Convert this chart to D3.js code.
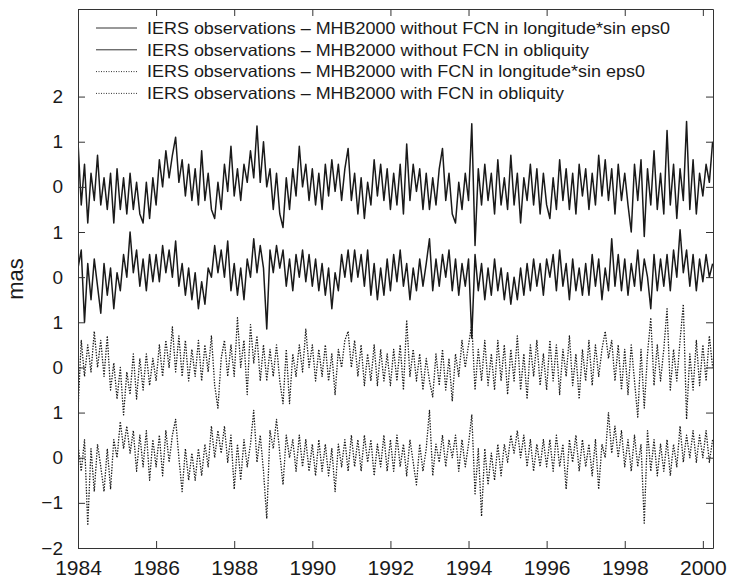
<!DOCTYPE html>
<html lang="en">
<head>
<meta charset="UTF-8">
<script src="https://d3js.org/d3.v7.min.js"></script>
<style>
  body { margin: 0; background: #fff; }
  #plot { position: absolute; left: 0; top: 0; }
  text { font-family: "Liberation Sans", Arial, Helvetica, sans-serif; fill: #1a1a1a; }
</style>
</head>
<body>
<div id="plot"></div>
<script>
// sampling grid of the series (one value per month)
const startYear = 1984;
const stepYear = 1 / 12;

// IERS - MHB2000 without FCN, longitude*sin eps0 (mas)
const woLon = [
  1.0,-0.4,0.5,-0.8,0.3,-0.3,0.7,-0.4,0.2,-0.5,0.3,-0.8,
  0.4,-0.5,0.2,-0.6,0.3,-0.5,0.1,-0.6,-0.8,0.1,-0.7,0.2,
  -0.4,0.6,0.0,0.8,0.2,0.7,1.1,0.1,0.6,-0.2,0.5,-0.3,
  0.4,-0.4,0.8,-0.3,0.3,-0.5,-0.7,0.1,-0.5,0.5,-0.1,0.9,
  -0.2,0.4,-0.3,0.5,0.1,0.8,0.2,1.35,0.1,1.0,0.0,0.4,
  -0.5,0.3,-0.6,-0.9,0.2,-0.5,0.4,-0.2,0.9,0.0,0.5,-0.3,
  0.4,-0.4,0.3,-0.5,0.5,-0.2,0.6,-0.1,0.5,-0.3,0.4,0.85,
  -0.3,0.3,-0.6,0.2,-0.7,0.1,-0.4,0.6,-0.2,0.5,-0.3,0.4,
  -0.5,0.3,-0.4,0.5,-0.6,0.95,-0.3,0.5,-0.1,0.4,-0.5,0.3,
  -0.5,0.2,-0.4,0.4,0.85,-0.3,0.3,-0.6,-0.8,0.1,-0.5,0.3,
  -0.3,1.4,-1.3,0.4,-0.4,0.5,-0.3,0.3,-0.6,0.6,-0.4,0.2,
  -0.5,0.7,-0.4,0.3,-0.8,0.2,-0.3,0.5,-0.4,0.4,-0.6,0.3,
  -0.4,-0.7,0.2,-0.5,0.6,-0.3,0.4,-0.5,0.3,-0.6,0.5,-0.2,
  0.4,-0.5,0.3,-0.4,0.7,-0.2,0.6,-0.3,0.4,-0.6,0.5,-0.3,
  0.3,-0.4,-1.0,0.5,-0.3,0.6,-1.1,0.4,-0.4,0.8,-0.5,0.3,
  -0.6,1.25,-0.4,0.5,-0.7,0.4,-0.3,1.45,-0.5,0.6,-0.6,0.3,
  -0.2,0.5,0.1,1.0
];

// IERS - MHB2000 without FCN, obliquity (mas)
const woObl = [
  0.2,0.6,-1.0,0.3,-0.5,0.4,-0.2,-0.8,0.3,-0.4,0.2,-0.7,
  0.1,-0.3,0.5,0.0,1.0,0.1,0.6,-0.2,0.4,-0.3,0.5,-0.1,
  0.5,-0.1,0.7,0.1,0.6,0.0,0.8,-0.2,0.3,-0.4,0.2,-0.5,
  0.1,-0.7,-0.1,-0.6,0.2,0.0,0.7,0.1,0.6,0.0,0.8,-0.3,
  0.3,-0.4,0.2,-0.5,0.4,0.0,0.85,0.1,0.7,0.2,-1.15,0.6,
  0.1,0.7,0.2,0.6,-0.2,0.4,-0.3,0.5,0.0,0.6,-0.1,0.5,
  -0.2,0.4,-0.3,0.3,-0.4,0.2,-0.7,0.1,-0.3,0.5,0.0,0.6,
  -0.1,0.6,0.0,0.5,-0.2,0.6,-0.4,0.3,-0.5,0.2,-0.4,0.4,
  -0.3,0.5,-0.1,0.6,-0.2,0.3,-0.5,0.2,-0.3,0.4,-0.2,0.3,
  0.85,-0.3,0.4,-0.2,0.5,0.0,0.6,-0.3,0.4,-0.4,0.3,-0.2,
  0.4,-1.35,0.5,-0.3,0.3,-0.5,0.2,-0.4,0.4,-0.3,0.2,-0.5,
  0.1,-0.6,0.0,-0.5,0.2,-0.4,0.3,-0.3,0.4,-0.2,0.3,-0.4,
  0.4,0.0,0.5,-0.3,0.6,-0.2,0.3,-0.5,0.4,-0.3,0.2,-0.4,
  0.3,-0.4,0.5,-0.2,0.4,-0.5,0.2,-0.3,0.85,-0.2,0.5,-0.3,
  0.4,-0.4,0.3,-0.2,0.6,-0.3,0.4,0.0,-0.7,0.5,-0.3,0.4,
  -0.2,0.5,-0.3,0.6,0.0,1.05,0.1,0.6,-0.2,0.5,-0.3,0.4,
  -0.1,0.5,0.0,0.3
];

// IERS - MHB2000 with FCN, longitude*sin eps0 (mas)
const wLon = [
  -0.95,0.6,-0.2,0.5,-0.1,0.8,0.0,0.6,-0.2,0.7,-0.5,0.1,
  -0.7,0.0,-1.05,-0.1,-0.6,0.3,-0.7,0.2,-0.5,0.3,-0.4,0.2,
  -0.3,0.5,-0.2,0.6,0.0,0.9,-0.1,0.7,-0.2,0.6,-0.3,0.4,
  -0.2,0.6,-0.3,0.5,-0.1,0.7,-0.4,-0.9,0.2,0.6,-0.2,0.5,
  -0.2,1.1,0.0,0.6,-0.6,0.95,0.1,0.7,-0.3,0.5,-0.3,0.4,
  -0.2,0.5,-0.3,-0.8,0.4,-0.8,0.3,-0.2,0.5,-0.1,0.85,0.0,
  0.5,-0.3,0.4,-0.2,0.5,-0.3,0.3,-0.6,0.4,0.0,0.6,0.8,
  0.0,0.6,-0.2,0.5,-0.4,0.3,-0.3,0.5,-0.4,0.4,-0.3,0.3,
  -0.4,0.4,-0.3,0.5,-0.5,1.05,-0.2,0.4,-0.3,0.3,-0.5,0.2,
  -0.3,-0.65,0.3,-0.4,0.4,-0.5,0.2,-0.75,0.3,-0.2,0.6,0.0,
  0.5,0.95,-0.5,0.4,-0.3,0.6,-0.4,0.3,-0.5,0.6,-0.3,0.5,
  -0.6,0.4,-0.3,0.7,-0.5,0.3,-0.7,0.5,-0.2,0.6,-0.4,0.3,
  -0.5,0.6,-0.3,0.5,-0.6,0.4,-0.2,0.7,-0.4,0.3,-0.7,0.4,
  -0.3,0.6,-0.4,0.5,-0.2,0.4,0.8,0.2,0.6,-0.3,0.5,-0.5,
  0.4,-0.6,0.5,-0.3,-1.1,0.4,-0.9,0.3,1.1,-0.4,0.5,-0.3,
  0.4,1.3,-0.5,0.4,-0.3,0.6,1.4,-1.15,0.3,-0.5,0.6,-0.4,
  0.5,-0.3,0.7,0.0
];

// IERS - MHB2000 with FCN, obliquity (mas)
const wObl = [
  0.3,-0.3,0.4,-1.5,0.2,-0.75,0.3,-0.2,-0.75,0.2,-0.7,0.4,
  0.0,0.8,0.2,0.7,0.1,0.6,-0.3,0.5,-0.2,0.6,-0.5,0.4,
  -0.2,0.5,-0.4,0.6,-0.1,0.5,0.85,0.0,-0.75,0.2,-0.5,0.1,
  -0.5,0.2,-0.4,0.3,-0.2,0.7,0.0,0.6,0.1,0.7,-0.1,0.5,
  -0.7,0.3,-0.5,0.4,-0.2,0.3,1.05,-0.1,0.5,-0.3,-1.35,0.6,
  0.2,0.85,0.1,-0.6,0.5,0.0,0.4,-0.3,0.5,-0.2,0.4,-0.3,
  0.3,-0.4,0.4,-0.3,0.3,-0.4,0.2,-0.75,0.3,-0.2,0.4,-0.3,
  0.5,-0.2,0.4,-0.3,0.5,-0.1,0.4,-0.4,0.3,-0.2,0.5,-0.3,
  0.4,-0.3,0.5,-0.2,0.3,-0.4,0.4,-0.1,-0.6,0.3,-0.3,0.2,
  1.05,-0.4,0.3,-0.1,0.5,-0.2,0.4,0.0,0.5,-0.3,0.4,-0.2,
  0.3,0.95,-0.8,0.2,-1.3,0.2,-0.6,0.1,-0.5,0.3,-0.4,0.3,
  -0.1,0.5,0.1,0.6,0.0,0.5,-0.2,0.4,-0.3,0.3,-0.2,0.4,
  -0.2,0.4,-0.3,0.5,-0.2,0.3,-0.7,0.4,-0.1,0.5,-0.3,0.4,
  -0.2,0.3,-0.4,0.4,-0.7,0.3,0.0,1.0,0.1,0.7,0.0,0.6,
  -0.2,0.4,-0.3,0.5,-0.2,0.3,-1.45,0.6,-0.3,0.4,-0.4,0.3,
  -0.3,0.4,-0.4,0.3,-0.2,0.7,-0.1,0.5,0.0,0.6,-0.1,0.5,
  0.0,0.6,-0.1,0.4
];

const seriesNames = [
  "IERS observations \u2013 MHB2000 without FCN in longitude*sin eps0",
  "IERS observations \u2013 MHB2000 without FCN in obliquity",
  "IERS observations \u2013 MHB2000 with FCN in longitude*sin eps0",
  "IERS observations \u2013 MHB2000 with FCN in obliquity"
];
const seriesOffsets = [6, 4, 2, 0];   // vertical shift of each curve (mas)
const seriesDashed = [false, false, true, true];

const xTicks = [1984, 1986, 1988, 1990, 1992, 1994, 1996, 1998, 2000];
const yTicks = [-2, -1, 0, 1, 2, 3, 4, 5, 6, 7, 8];
const yTickLabels = ["\u22122", "\u22121", "0", "1", "0", "1", "0", "1", "0", "1", "2"];

function drawChart() {
  const width = 729, height = 579;
  const margin = {top: 9, right: 16, bottom: 31, left: 78};
  const plotW = width - margin.left - margin.right;
  const plotH = height - margin.top - margin.bottom;

  const svg = d3.select("#plot").append("svg")
      .attr("width", width)
      .attr("height", height);
  const g = svg.append("g")
      .attr("transform", `translate(${margin.left},${margin.top})`);

  // scales
  const x = d3.scaleLinear().domain([1984, 2000.26]).range([0, plotW]);
  const y = d3.scaleLinear().domain([-2, 9.94]).range([plotH, 0]);

  g.append("clipPath").attr("id", "clip")
    .append("rect").attr("width", plotW).attr("height", plotH);

  // curves
  const allSeries = [woLon, woObl, wLon, wObl];
  allSeries.forEach((vals, k) => {
    const line = d3.line()
        .x((d, i) => x(startYear + i * stepYear))
        .y(d => y(d + seriesOffsets[k]));
    g.append("path")
        .datum(vals)
        .attr("clip-path", "url(#clip)")
        .attr("fill", "none")
        .attr("stroke", "#1a1a1a")
        .attr("stroke-width", seriesDashed[k] ? 1.3 : 1.5)
        .attr("stroke-dasharray", seriesDashed[k] ? "1.4,1.4" : null)
        .attr("stroke-linejoin", "round")
        .attr("d", line);
  });

  // axes (ticks inside, on all four sides)
  const xAxis = d3.axisBottom(x).tickValues(xTicks).tickFormat(d3.format("d"))
      .tickSizeInner(-7).tickSizeOuter(0).tickPadding(12);
  const yAxis = d3.axisLeft(y).tickValues(yTicks).tickFormat((d, i) => yTickLabels[i])
      .tickSizeInner(-7).tickSizeOuter(0).tickPadding(15);

  const xAxisGroup = g.append("g").attr("transform", `translate(0,${plotH})`).call(xAxis);
  xAxisGroup.selectAll("text").style("font-size", "21px");

  const yAxisGroup = g.append("g").call(yAxis);
  yAxisGroup.selectAll("text").style("font-size", "19px");

  g.append("g").call(d3.axisTop(x).tickValues(xTicks).tickFormat("")
      .tickSizeInner(-7).tickSizeOuter(0));
  g.append("g").attr("transform", `translate(${plotW},0)`)
    .call(d3.axisRight(y).tickValues(yTicks).tickFormat("")
      .tickSizeInner(-7).tickSizeOuter(0));

  g.selectAll(".domain, .tick line").attr("stroke", "#333");
  g.selectAll(".tick text").attr("fill", "#1a1a1a").attr("font-family", null);

  // y label
  svg.append("text")
      .attr("transform", `translate(23,279) rotate(-90)`)
      .attr("text-anchor", "middle")
      .style("font-size", "22px")
      .text("mas");

  // legend
  const legend = svg.append("g");
  seriesNames.forEach((name, k) => {
    const ly = 28 + k * 21.8;
    legend.append("line")
        .attr("x1", 96).attr("x2", 137)
        .attr("y1", ly).attr("y2", ly)
        .attr("stroke", "#333")
        .attr("stroke-width", 1)
        .attr("stroke-dasharray", seriesDashed[k] ? "1,1.5" : null);
    const t = legend.append("text")
        .attr("x", 147).attr("y", ly)
        .attr("dy", "0.35em")
        .style("font-size", "16.5px")
        .text(name);
    // the original lettering is a bit wider than Liberation Sans
    const w = t.node().getComputedTextLength();
    t.attr("textLength", w * 1.088).attr("lengthAdjust", "spacingAndGlyphs");
  });
}

window.onload = drawChart;
</script>
</body>
</html>
